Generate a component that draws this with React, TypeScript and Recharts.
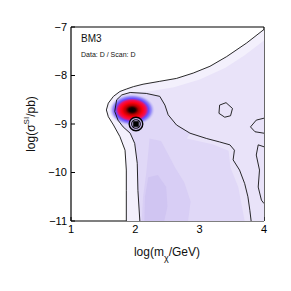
import React from 'react';
import { ScatterChart, Scatter, XAxis, YAxis } from 'recharts';

// contour lines (log m, log sigma)
const outerContour = [
  [4.0, -7.05], [3.73, -7.33], [3.42, -7.61], [3.16, -7.81], [2.9, -7.95],
  [2.64, -8.06], [2.38, -8.12], [2.12, -8.18], [1.97, -8.23], [1.86, -8.28],
  [1.76, -8.33], [1.66, -8.43], [1.58, -8.57], [1.55, -8.71], [1.58, -8.85],
  [1.66, -9.02], [1.76, -9.26], [1.84, -9.54], [1.86, -9.95], [1.86, -10.37],
  [1.86, -11.0],
];

const innerContour = [
  [2.07, -11.0], [2.04, -10.37], [2.03, -9.81], [1.99, -9.4], [1.92, -9.19],
  [1.81, -9.06], [1.73, -8.92], [1.68, -8.74], [1.71, -8.5], [1.79, -8.4],
  [1.92, -8.35], [2.17, -8.37], [2.38, -8.43], [2.46, -8.61], [2.51, -8.81],
  [2.64, -9.02], [2.85, -9.19], [3.11, -9.3], [3.31, -9.37], [3.47, -9.43],
  [3.54, -9.54], [3.52, -9.74], [3.62, -9.95], [3.7, -10.23], [3.75, -10.5],
  [3.78, -10.78], [3.8, -11.0],
];

const islandContour = [
  [3.31, -8.61], [3.41, -8.56], [3.51, -8.68], [3.48, -8.83], [3.39, -8.86],
  [3.3, -8.78], [3.31, -8.61],
];

const edgeContourA = [
  [4.0, -8.88], [3.88, -8.92], [3.79, -9.06], [3.86, -9.16], [4.0, -9.19],
];

const edgeContourB = [
  [4.0, -9.47], [3.91, -9.43], [3.88, -9.64], [3.93, -9.95], [3.91, -10.3],
  [3.96, -10.57], [4.0, -10.64],
];

// shaded regions of the density map
const paleRegion = [...outerContour, [4.0, -11.0]];

const upperShade = [
  [1.92, -8.35], [2.2, -8.33], [2.6, -8.24], [3.0, -8.08], [3.4, -7.84],
  [3.7, -7.58], [4.0, -7.28], [4.0, -11.0], [2.07, -11.0], [2.04, -10.37],
  [2.03, -9.81], [1.99, -9.4], [1.92, -9.19], [1.81, -9.06], [1.73, -8.92],
  [1.68, -8.74], [1.71, -8.5], [1.79, -8.4],
];

const innerShade = [...innerContour.slice(0, 17), [2.8, -9.3], [3.2, -9.42],
  [3.45, -9.55], [3.48, -9.9], [3.6, -10.3], [3.7, -11.0]];

const plumeShade = [
  [2.22, -9.3], [2.4, -9.35], [2.5, -9.6], [2.62, -9.9], [2.76, -10.2],
  [2.86, -10.6], [2.82, -11.0], [2.1, -11.0], [2.12, -10.5], [2.17, -10.0],
  [2.2, -9.6],
];

const plumeCore = [
  [2.2, -10.1], [2.35, -10.05], [2.48, -10.3], [2.5, -10.7], [2.45, -11.0],
  [2.14, -11.0], [2.15, -10.5],
];

const bestFit = [[1.95, -8.71]];
const benchmark = [[2.01, -9.0]];

const xTicks = [1, 2, 3, 4];
const yTicks = [-11, -10, -9, -8, -7];

const toPts = (arr: number[][]) => arr.map(([x, y]) => ({ x, y }));
const noDot = () => <g />;
const minus = (v: number) => String(v).replace('-', '\u2212');
const FONT = '"Liberation Sans", Arial, sans-serif';

const Hotspot = (p: any) => (
  <g>
    <defs>
      <radialGradient id="hot" cx="50%" cy="50%" r="50%">
        <stop offset="0" stopColor="#000000" />
        <stop offset="0.14" stopColor="#1a0000" />
        <stop offset="0.28" stopColor="#b00000" />
        <stop offset="0.45" stopColor="#ff0010" />
        <stop offset="0.6" stopColor="#f0105a" />
        <stop offset="0.72" stopColor="#6a4cff" />
        <stop offset="0.84" stopColor="#9c92f6" />
        <stop offset="1" stopColor="#d8d0f8" stopOpacity="0" />
      </radialGradient>
    </defs>
    <ellipse cx={p.cx} cy={p.cy} rx={23} ry={16} fill="url(#hot)" />
  </g>
);

const Marker = (p: any) => (
  <g>
    <circle cx={p.cx} cy={p.cy} r={6.8} fill="#c9b8f0" stroke="#000" strokeWidth={1.4} />
    <circle cx={p.cx} cy={p.cy} r={4.3} fill="none" stroke="#000" strokeWidth={1.1} />
    <rect x={p.cx - 2.8} y={p.cy - 2.8} width={5.6} height={5.6} fill="#000" />
  </g>
);

const area = (data: number[][], fill: string) => (
  <Scatter
    data={toPts(data)}
    line={{ fill, stroke: 'none' }}
    lineType="joint"
    shape={noDot}
    isAnimationActive={false}
  />
);

const contour = (data: number[][]) => (
  <Scatter
    data={toPts(data)}
    line={{ stroke: '#111', strokeWidth: 0.9, fill: 'none' }}
    lineType="joint"
    shape={noDot}
    isAnimationActive={false}
  />
);

export default function App() {
  const tickStyle = { fontSize: 11, fill: '#000', fontFamily: FONT };
  const axisLine = { stroke: '#000', strokeWidth: 1.2 };
  return (
    <div style={{ position: 'absolute', left: 0, top: 0, background: '#fff' }}>
      <ScatterChart width={291} height={291} margin={{ top: 7, right: 7, bottom: 40, left: 31 }}>
        <XAxis
          type="number"
          dataKey="x"
          domain={[1, 4]}
          ticks={xTicks}
          height={30}
          tickSize={-4}
          tickMargin={8}
          tick={tickStyle}
          axisLine={axisLine}
          tickLine={{ stroke: '#000' }}
          allowDataOverflow
        />
        <XAxis
          xAxisId="top"
          orientation="top"
          type="number"
          domain={[1, 4]}
          ticks={xTicks}
          height={20}
          tickSize={-4}
          tickFormatter={() => ''}
          axisLine={axisLine}
          tickLine={{ stroke: '#000' }}
        />
        <YAxis
          type="number"
          dataKey="y"
          domain={[-11, -7]}
          ticks={yTicks}
          width={40}
          tickSize={-4}
          tickMargin={8}
          tick={tickStyle}
          tickFormatter={minus}
          axisLine={axisLine}
          tickLine={{ stroke: '#000' }}
          allowDataOverflow
        />
        <YAxis
          yAxisId="right"
          orientation="right"
          type="number"
          domain={[-11, -7]}
          ticks={yTicks}
          width={20}
          tickSize={-4}
          tickFormatter={() => ''}
          axisLine={axisLine}
          tickLine={{ stroke: '#000' }}
        />
        {area(paleRegion, '#f3f0fc')}
        {area(upperShade, '#e9e3f9')}
        {area(innerShade, '#e0d8f7')}
        {area(plumeShade, '#d8cef5')}
        {area(plumeCore, '#d0c5f2')}
        <Scatter data={toPts(bestFit)} shape={Hotspot} isAnimationActive={false} />
        {contour(outerContour)}
        {contour(innerContour)}
        {contour(islandContour)}
        {contour(edgeContourA)}
        {contour(edgeContourB)}
        <Scatter data={toPts(benchmark)} shape={Marker} isAnimationActive={false} />
        <text x={81} y={42} fontSize={10} fontFamily={FONT} fill="#111">BM3</text>
        <text x={81} y={57} fontSize={7} fontFamily={FONT} fill="#111">Data: D / Scan: D</text>
        <text x={167} y={256} fontSize={12} fontFamily={FONT} textAnchor="middle" fill="#111">
          log(m<tspan fontSize={9} dy={5}>χ</tspan><tspan dy={-5}>/GeV)</tspan>
        </text>
        <text
          x={0}
          y={0}
          transform="translate(35,124) rotate(-90)"
          fontSize={12}
          fontFamily={FONT}
          textAnchor="middle"
          fill="#111"
        >
          log(σ<tspan fontSize={8} dy={-6}>SI</tspan><tspan dy={6}>/pb)</tspan>
        </text>
      </ScatterChart>
    </div>
  );
}
